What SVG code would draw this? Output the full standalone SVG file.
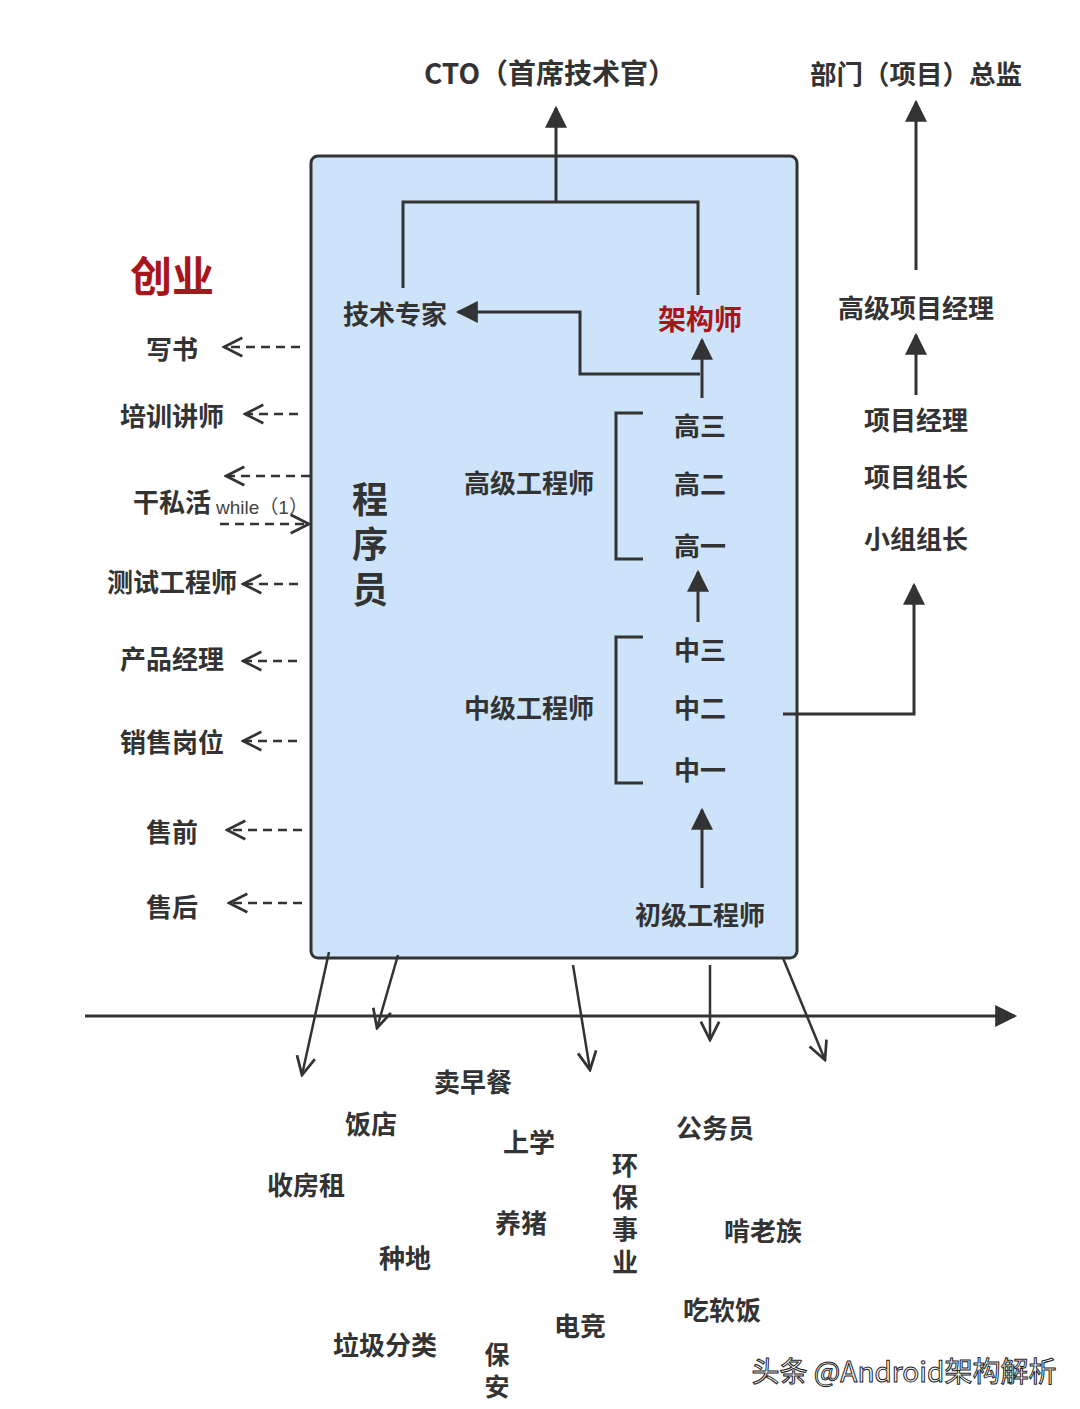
<svg xmlns="http://www.w3.org/2000/svg" width="1080" height="1409" viewBox="0 0 1080 1409">
<defs>
<style>
.t{font-family:"Noto Sans CJK SC","Noto Sans",sans-serif;font-weight:bold;fill:#333;font-size:26px;text-anchor:middle;dominant-baseline:central}
.v{font-family:"Noto Sans CJK SC","Noto Sans",sans-serif;font-weight:bold;fill:#333;font-size:26px;writing-mode:vertical-rl;text-anchor:start}
.red{fill:#a8161b}
.ln{fill:none;stroke:#333;stroke-width:3}
.ds{fill:none;stroke:#333;stroke-width:2.5;stroke-dasharray:9 6}
.ch{fill:none;stroke:#333;stroke-width:2.5}
</style>
<marker id="big" viewBox="0 0 10 10" refX="9" refY="5" markerWidth="26" markerHeight="22" markerUnits="userSpaceOnUse" orient="auto"><path d="M0,0L10,5L0,10z" fill="#333"/></marker>
<marker id="op" viewBox="0 0 12 12" refX="11" refY="6" markerWidth="22" markerHeight="22" markerUnits="userSpaceOnUse" orient="auto"><path d="M1,1L11,6L1,11" fill="none" stroke="#333" stroke-width="1.5"/></marker>
</defs>
<rect width="1080" height="1409" fill="#fff"/>
<g id="programmer-box"><rect x="311" y="156" width="486" height="802" rx="7" fill="#cce3f9" stroke="#333" stroke-width="3"/></g>
<g id="connectors">
<polyline class="ln" points="403,288 403,202 698,202 698,295"/>
<line class="ln" x1="556" y1="202" x2="556" y2="108" marker-end="url(#big)"/>
<polyline class="ln" points="700,374 580,374 580,312 458,312" marker-end="url(#big)"/>
<line class="ln" x1="702" y1="398" x2="702" y2="340" marker-end="url(#big)"/>
<polyline class="ln" points="643,413 616,413 616,559 643,559"/>
<line class="ln" x1="698" y1="622" x2="698" y2="572" marker-end="url(#big)"/>
<polyline class="ln" points="643,637 616,637 616,783 643,783"/>
<line class="ln" x1="702" y1="888" x2="702" y2="810" marker-end="url(#big)"/>
<polyline class="ln" points="783,714 914,714 914,585" marker-end="url(#big)"/>
<line class="ln" x1="916" y1="395" x2="916" y2="335" marker-end="url(#big)"/>
<line class="ln" x1="916" y1="270" x2="916" y2="102" marker-end="url(#big)"/>
<line class="ds" x1="300" y1="347" x2="224" y2="347" marker-end="url(#op)"/>
<line class="ds" x1="298" y1="414" x2="245" y2="414" marker-end="url(#op)"/>
<line class="ds" x1="310" y1="476" x2="226" y2="476" marker-end="url(#op)"/>
<line class="ds" x1="220" y1="524" x2="309" y2="524" marker-end="url(#op)"/>
<line class="ds" x1="298" y1="584" x2="243" y2="584" marker-end="url(#op)"/>
<line class="ds" x1="297" y1="661" x2="243" y2="661" marker-end="url(#op)"/>
<line class="ds" x1="297" y1="741" x2="243" y2="741" marker-end="url(#op)"/>
<line class="ds" x1="302" y1="830" x2="227" y2="830" marker-end="url(#op)"/>
<line class="ds" x1="302" y1="903" x2="229" y2="903" marker-end="url(#op)"/>
<line class="ln" x1="85" y1="1016" x2="1015" y2="1016" marker-end="url(#big)"/>
<line class="ch" x1="329" y1="952" x2="302" y2="1075" marker-end="url(#op)"/>
<line class="ch" x1="398" y1="955" x2="377" y2="1028" marker-end="url(#op)"/>
<line class="ch" x1="573" y1="965" x2="590" y2="1070" marker-end="url(#op)"/>
<line class="ch" x1="710" y1="965" x2="710" y2="1040" marker-end="url(#op)"/>
<line class="ch" x1="783" y1="958" x2="825" y2="1060" marker-end="url(#op)"/>
</g>
<g id="top-labels">
<text class="t" x="550" y="72" style="font-size:28px">CTO（首席技术官）</text>
<text class="t" x="916" y="72" style="font-size:26.5px">部门（项目）总监</text>
</g>
<g id="inner-nodes">
<text class="t" x="395" y="312">技术专家</text>
<text class="t red" x="700" y="318" style="font-size:28px">架构师</text>
<text class="t" x="700" y="424">高三</text>
<text class="t" x="700" y="482">高二</text>
<text class="t" x="700" y="544">高一</text>
<text class="t" x="529" y="481">高级工程师</text>
<text class="t" x="700" y="648">中三</text>
<text class="t" x="700" y="706">中二</text>
<text class="t" x="700" y="768">中一</text>
<text class="t" x="529" y="706">中级工程师</text>
<text class="t" x="700" y="913">初级工程师</text>
<text class="v" x="370" y="481" style="font-size:36px;letter-spacing:9px">程序员</text>
</g>
<g id="right-nodes">
<text class="t" x="916" y="306">高级项目经理</text>
<text class="t" x="916" y="418">项目经理</text>
<text class="t" x="916" y="475">项目组长</text>
<text class="t" x="916" y="537">小组组长</text>
</g>
<g id="left-nodes">
<text class="t red" x="172" y="273" style="font-size:42px">创业</text>
<text class="t" x="172" y="347">写书</text>
<text class="t" x="172" y="414">培训讲师</text>
<text class="t" x="172" y="500">干私活</text>
<text x="262" y="507" font-family="Liberation Sans, Noto Sans CJK SC, sans-serif" font-size="19" fill="#444" text-anchor="middle" dominant-baseline="central">while（1）</text>
<text class="t" x="172" y="580">测试工程师</text>
<text class="t" x="172" y="657">产品经理</text>
<text class="t" x="172" y="740">销售岗位</text>
<text class="t" x="172" y="830">售前</text>
<text class="t" x="172" y="905">售后</text>
</g>
<g id="bottom-labels">
<text class="t" x="473" y="1080">卖早餐</text>
<text class="t" x="371" y="1122">饭店</text>
<text class="t" x="529" y="1140">上学</text>
<text class="t" x="715" y="1126">公务员</text>
<text class="t" x="306" y="1183">收房租</text>
<text class="v" x="625" y="1152" style="letter-spacing:6.3px">环保事业</text>
<text class="t" x="521" y="1221">养猪</text>
<text class="t" x="763" y="1229">啃老族</text>
<text class="t" x="405" y="1256">种地</text>
<text class="t" x="722" y="1308">吃软饭</text>
<text class="t" x="580" y="1324">电竞</text>
<text class="t" x="385" y="1343">垃圾分类</text>
<text class="v" x="497" y="1342" style="font-size:25px;letter-spacing:7px">保安</text>
</g>
<g id="watermark">
<text x="904" y="1370" font-family="Noto Sans CJK SC, sans-serif" font-size="28" fill="#fff" stroke="#222" stroke-width="1" text-anchor="middle" dominant-baseline="central">头条 @Android架构解析</text>
</g>
</svg>
